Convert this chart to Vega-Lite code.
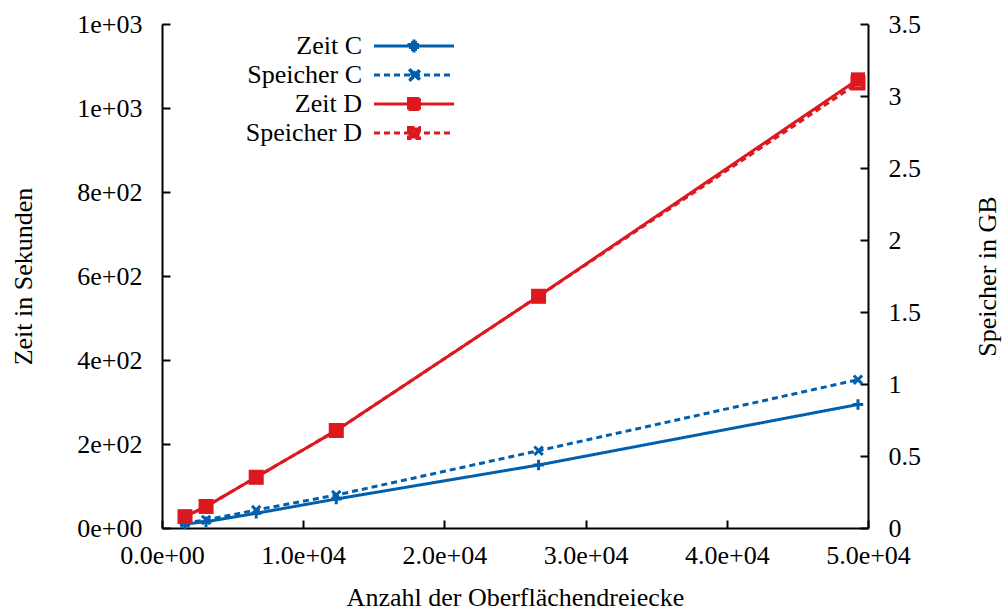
{
  "$schema": "https://vega.github.io/schema/vega-lite/v6.json",
  "width": 706,
  "height": 504,
  "autosize": {"type": "none"},
  "padding": {"left": 162, "top": 24, "right": 137, "bottom": 85},
  "background": "white",
  "config": {
    "view": {"stroke": null},
    "font": "Liberation Serif",
    "axis": {
      "labelFont": "Liberation Serif",
      "titleFont": "Liberation Serif",
      "labelFontSize": 26,
      "titleFontSize": 26,
      "labelColor": "black",
      "titleColor": "black",
      "titleFontWeight": "normal",
      "domainColor": "black",
      "domainWidth": 2,
      "tickColor": "black",
      "tickWidth": 2,
      "tickSize": -8,
      "grid": false
    },
    "legend": {
      "labelFont": "Liberation Serif",
      "labelFontSize": 26,
      "labelColor": "black"
    }
  },
  "data": {
    "values": [
      {"n": 1630, "series": "Zeit C", "kind": "Zeit", "value": 9.5},
      {"n": 3120, "series": "Zeit C", "kind": "Zeit", "value": 15},
      {"n": 6670, "series": "Zeit C", "kind": "Zeit", "value": 35},
      {"n": 12340, "series": "Zeit C", "kind": "Zeit", "value": 69},
      {"n": 26670, "series": "Zeit C", "kind": "Zeit", "value": 150},
      {"n": 49290, "series": "Zeit C", "kind": "Zeit", "value": 294},
      {"n": 1630, "series": "Speicher C", "kind": "Speicher", "value": 0.035},
      {"n": 3120, "series": "Speicher C", "kind": "Speicher", "value": 0.056},
      {"n": 6670, "series": "Speicher C", "kind": "Speicher", "value": 0.125},
      {"n": 12340, "series": "Speicher C", "kind": "Speicher", "value": 0.229},
      {"n": 26670, "series": "Speicher C", "kind": "Speicher", "value": 0.537},
      {"n": 49290, "series": "Speicher C", "kind": "Speicher", "value": 1.03},
      {"n": 1630, "series": "Zeit D", "kind": "Zeit", "value": 27},
      {"n": 3120, "series": "Zeit D", "kind": "Zeit", "value": 51},
      {"n": 6670, "series": "Zeit D", "kind": "Zeit", "value": 121},
      {"n": 12340, "series": "Zeit D", "kind": "Zeit", "value": 232},
      {"n": 26670, "series": "Zeit D", "kind": "Zeit", "value": 552},
      {"n": 49290, "series": "Zeit D", "kind": "Zeit", "value": 1068},
      {"n": 1630, "series": "Speicher D", "kind": "Speicher", "value": 0.079},
      {"n": 3120, "series": "Speicher D", "kind": "Speicher", "value": 0.149},
      {"n": 6670, "series": "Speicher D", "kind": "Speicher", "value": 0.353},
      {"n": 12340, "series": "Speicher D", "kind": "Speicher", "value": 0.677},
      {"n": 26670, "series": "Speicher D", "kind": "Speicher", "value": 1.61},
      {"n": 49290, "series": "Speicher D", "kind": "Speicher", "value": 3.09}
    ]
  },
  "encoding": {
    "x": {
      "field": "n",
      "type": "quantitative",
      "scale": {"domain": [0, 50000], "nice": false, "zero": false},
      "axis": {
        "title": "Anzahl der Oberflächendreiecke",
        "values": [0, 10000, 20000, 30000, 40000, 50000],
        "labelExpr": "replace(format(datum.value, '.1e'), 'e+', 'e+0')",
        "labelPadding": 22,
        "titlePadding": 16,
        "labelFlush": false
      }
    }
  },
  "layer": [
    {
      "transform": [{"filter": "datum.kind == 'Zeit'"}],
      "encoding": {
        "y": {
          "field": "value",
          "type": "quantitative",
          "scale": {"domain": [0, 1200], "nice": false},
          "axis": {
            "orient": "left",
            "title": "Zeit in Sekunden",
            "values": [0, 200, 400, 600, 800, 1000, 1200],
            "labelExpr": "replace(format(datum.value, '.0e'), 'e+', 'e+0')",
            "labelPadding": 28,
            "titlePadding": 40,
            "labelFlush": false
          }
        }
      },
      "layer": [
        {
          "mark": {"type": "line", "strokeWidth": 3},
          "encoding": {
            "color": {
              "field": "series",
              "type": "nominal",
              "scale": {
                "domain": ["Zeit C", "Speicher C", "Zeit D", "Speicher D"],
                "range": ["#0060ad", "#0060ad", "#dd181f", "#dd181f"]
              },
              "legend": {
                "title": null,
                "orient": "none",
                "legendX": 239,
                "legendY": 9,
                "symbolType": "M-8,0H8",
                "symbolSize": 100,
                "symbolStrokeWidth": 3,
                "symbolOffset": 0,
                "labelAlign": "right",
                "labelOffset": -65,
                "rowPadding": 3,
                "padding": 0,
                "encode": {
                  "symbols": {
                    "update": {
                      "shape": {"signal": "datum.value == 'Zeit C' ? 'M-8,0H8M-1,-0.3H-0.3V-1H0.3V-0.3H1V0.3H0.3V1H-0.3V0.3H-1Z' : datum.value == 'Speicher C' ? 'M-8,0H8M-1,-0.7L-0.7,-1L1,0.7L0.7,1ZM0.7,-1L1,-0.7L-0.7,1L-1,0.7Z' : datum.value == 'Zeit D' ? 'M-8,0H8M-1.1,-1.1H1.1V1.1H-1.1Z' : 'M-8,0H8M-1.1,-1.1H1.1V1.1H-1.1ZM-0.25,-0.25V0.25H0.25V-0.25Z'"},
                      "fill": {"signal": "indexof(['Zeit C', 'Speicher C'], datum.value) >= 0 ? '#0060ad' : '#dd181f'"}
                    }
                  }
                }
              }
            },
            "strokeDash": {
              "field": "series",
              "type": "nominal",
              "scale": {
                "domain": ["Zeit C", "Speicher C", "Zeit D", "Speicher D"],
                "range": [[1, 0], [6, 4], [1, 0], [6, 4]]
              },
              "legend": {
                "title": null,
                "orient": "none",
                "legendX": 239,
                "legendY": 9,
                "symbolType": "M-8,0H8",
                "symbolSize": 100,
                "symbolStrokeWidth": 3,
                "symbolOffset": 0,
                "labelAlign": "right",
                "labelOffset": -65,
                "rowPadding": 3,
                "padding": 0,
                "encode": {
                  "symbols": {
                    "update": {
                      "shape": {"signal": "datum.value == 'Zeit C' ? 'M-8,0H8M-1,-0.3H-0.3V-1H0.3V-0.3H1V0.3H0.3V1H-0.3V0.3H-1Z' : datum.value == 'Speicher C' ? 'M-8,0H8M-1,-0.7L-0.7,-1L1,0.7L0.7,1ZM0.7,-1L1,-0.7L-0.7,1L-1,0.7Z' : datum.value == 'Zeit D' ? 'M-8,0H8M-1.1,-1.1H1.1V1.1H-1.1Z' : 'M-8,0H8M-1.1,-1.1H1.1V1.1H-1.1ZM-0.25,-0.25V0.25H0.25V-0.25Z'"},
                      "fill": {"signal": "indexof(['Zeit C', 'Speicher C'], datum.value) >= 0 ? '#0060ad' : '#dd181f'"}
                    }
                  }
                }
              }
            }
          }
        },
        {
          "transform": [{"filter": "datum.series == 'Zeit C'"}],
          "mark": {"type": "point", "shape": "M-1,0H1M0,-1V1", "filled": false, "strokeWidth": 3, "size": 110, "color": "#0060ad", "opacity": 1}
        },
        {
          "transform": [{"filter": "datum.series == 'Zeit D'"}],
          "mark": {"type": "point", "shape": "square", "filled": true, "size": 200, "color": "#dd181f", "opacity": 1}
        }
      ]
    },
    {
      "transform": [{"filter": "datum.kind == 'Speicher'"}],
      "encoding": {
        "y": {
          "field": "value",
          "type": "quantitative",
          "scale": {"domain": [0, 3.5], "nice": false},
          "axis": {
            "orient": "right",
            "title": "Speicher in GB",
            "values": [0, 0.5, 1, 1.5, 2, 2.5, 3, 3.5],
            "format": "~g",
            "labelPadding": 28,
            "titlePadding": 80,
            "titleAngle": 270,
            "labelFlush": false
          }
        }
      },
      "layer": [
        {
          "mark": {"type": "line", "strokeWidth": 3},
          "encoding": {
            "color": {"field": "series", "type": "nominal"},
            "strokeDash": {"field": "series", "type": "nominal"}
          }
        },
        {
          "transform": [{"filter": "datum.series == 'Speicher C'"}],
          "mark": {"type": "point", "shape": "M-1,-1L1,1M1,-1L-1,1", "filled": false, "strokeWidth": 3, "size": 70, "color": "#0060ad", "opacity": 1}
        },
        {
          "transform": [{"filter": "datum.series == 'Speicher D'"}],
          "mark": {"type": "point", "shape": "square", "filled": false, "strokeWidth": 4, "size": 120, "color": "#dd181f", "opacity": 1}
        }
      ]
    }
  ],
  "resolve": {"scale": {"y": "independent"}}
}
